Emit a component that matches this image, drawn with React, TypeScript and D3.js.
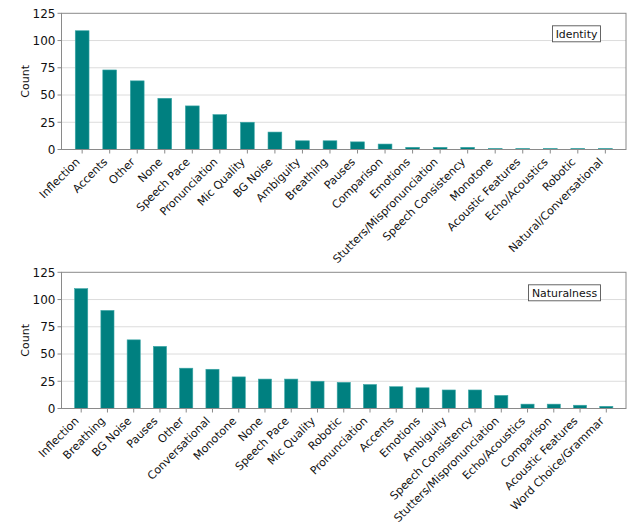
import React from "react";
import * as d3 from "d3";

const identityCategories = [
  "Inflection", "Accents", "Other", "None", "Speech Pace", "Pronunciation",
  "Mic Quality", "BG Noise", "Ambiguity", "Breathing", "Pauses", "Comparison",
  "Emotions", "Stutters/Mispronunciation", "Speech Consistency", "Monotone",
  "Acoustic Features", "Echo/Acoustics", "Robotic", "Natural/Conversational",
];
const identityCounts = [109, 73, 63, 47, 40, 32, 25, 16, 8, 8, 7, 5, 2, 2, 2, 1, 1, 1, 1, 1];

const naturalnessCategories = [
  "Inflection", "Breathing", "BG Noise", "Pauses", "Other", "Conversational",
  "Monotone", "None", "Speech Pace", "Mic Quality", "Robotic", "Pronunciation",
  "Accents", "Emotions", "Ambiguity", "Speech Consistency",
  "Stutters/Mispronunciation", "Echo/Acoustics", "Comparison",
  "Acoustic Features", "Word Choice/Grammar",
];
const naturalnessCounts = [110, 90, 63, 57, 37, 36, 29, 27, 27, 25, 24, 22, 20, 19, 17, 17, 12, 4, 4, 3, 2];

const yTicks = [0, 25, 50, 75, 100, 125];

const FONT = "DejaVu Sans";
const BAR = "#008080";

type PanelProps = {
  categories: string[];
  counts: number[];
  title: string;
  top: number;
  bottom: number;
  legendWidth: number;
};

function Panel({ categories, counts, title, top, bottom, legendWidth }: PanelProps) {
  const left = 61.5;
  const right = 626;
  const x = d3.scaleBand<string>().domain(categories).range([left, right]).padding(0.5);
  const y = d3.scaleLinear().domain([0, 125]).range([bottom, top]);
  const fs = 11.1;
  return (
    <g>
      {yTicks.slice(1, 5).map((t) => (
        <line key={"g" + t} x1={left} x2={right} y1={y(t)} y2={y(t)} stroke="#dcdcdc" strokeWidth={1} />
      ))}
      {categories.map((c, i) => (
        <rect
          key={c}
          x={x(c)!}
          y={y(counts[i])}
          width={x.bandwidth()}
          height={y(0) - y(counts[i])}
          fill={BAR}
          stroke="#3aa6a6"
          strokeWidth={0.6}
        />
      ))}
      <rect x={left} y={top} width={right - left} height={bottom - top} fill="none" stroke="#8a8a8a" strokeWidth={1} />
      {yTicks.map((t) => (
        <g key={"y" + t}>
          <line x1={left - 4} x2={left} y1={y(t)} y2={y(t)} stroke="#8a8a8a" />
          <text x={left - 6} y={y(t)} dy="0.36em" textAnchor="end" fontSize={12} fontFamily={FONT} fill="#111">
            {t}
          </text>
        </g>
      ))}
      {categories.map((c) => {
        const cx = x(c)! + x.bandwidth() / 2;
        return (
          <g key={"x" + c}>
            <line x1={cx} x2={cx} y1={bottom} y2={bottom + 4} stroke="#8a8a8a" />
            <text
              transform={`translate(${cx - 4.5},${bottom + 10.3}) rotate(-45)`}
              textAnchor="end"
              dy="0.36em"
              fontSize={fs}
              fontFamily={FONT}
              fill="#111"
            >
              {c}
            </text>
          </g>
        );
      })}
      <text
        transform={`translate(29,${(top + bottom) / 2}) rotate(-90)`}
        textAnchor="middle"
        fontSize={11}
        fontFamily={FONT}
        fill="#111"
      >
        Count
      </text>
      <rect x={600.5 - legendWidth} y={top + 12.5} width={legendWidth} height={16} fill="white" stroke="#555" strokeWidth={0.9} />
      <text x={600.5 - legendWidth / 2} y={top + 20.5} dy="0.36em" textAnchor="middle" fontSize={10.9} fontFamily={FONT} fill="#111">
        {title}
      </text>
    </g>
  );
}

export default function App() {
  return (
    <svg width={640} height={529} style={{ position: "absolute", left: 0, top: 0, background: "white" }}>
      <rect width={640} height={529} fill="white" />
      <Panel categories={identityCategories} counts={identityCounts} title="Identity" top={13.3} bottom={149.5} legendWidth={48} />
      <Panel categories={naturalnessCategories} counts={naturalnessCounts} title="Naturalness" top={272.3} bottom={408.5} legendWidth={72} />
    </svg>
  );
}
